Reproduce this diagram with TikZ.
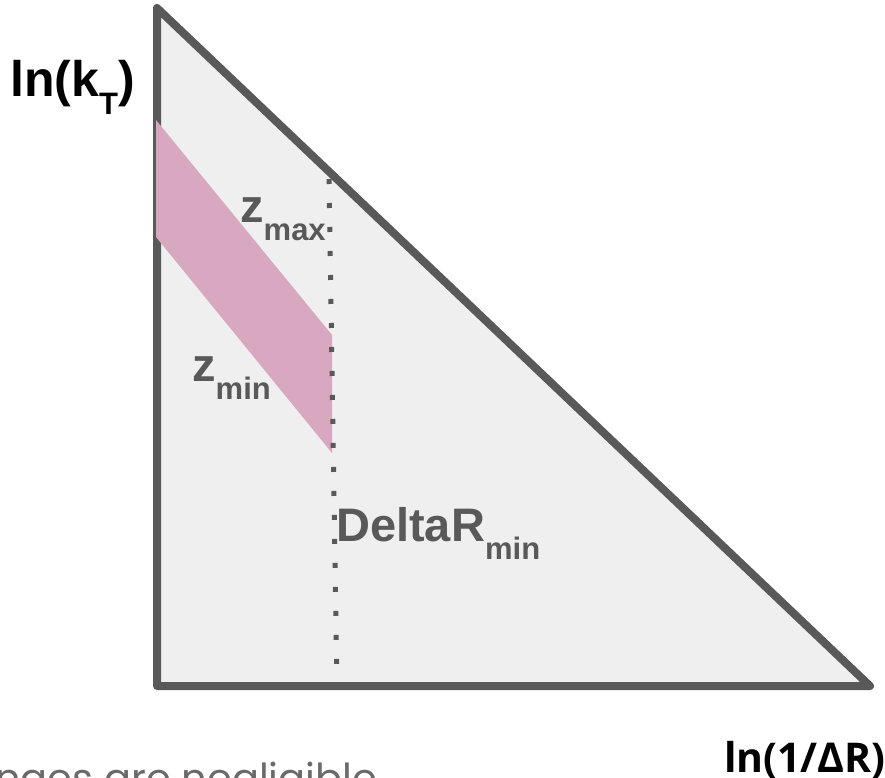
\documentclass[tikz,border=0pt]{standalone}
\usepackage{fontspec}
\setmainfont{Liberation Sans}
\newfontfamily\axfont{Open Sans}
\newfontfamily\notefont{Poppins}
\definecolor{edge}{HTML}{595959}
\definecolor{paper}{HTML}{EFEFEF}
\definecolor{rose}{HTML}{D8A7C0}
\newcommand{\lblsize}{\fontsize{47}{50}\selectfont}
\newcommand{\sbs}[1]{\raisebox{-18pt}{\fontsize{31}{31}\selectfont #1}}

\begin{document}
\begin{tikzpicture}[
  x=1pt, y=-1pt,
  tri/.style={draw=edge, fill=paper, line width=8pt, line join=round},
  band/.style={fill=rose},
  cut/.style={draw=edge, line width=5pt, dash pattern=on 5pt off 19pt},
  lbl/.style={font=\lblsize\bfseries, text=edge, inner sep=0pt, anchor=base west},
  axlbl/.style={font=\lblsize\bfseries, inner sep=0pt},
]
  \useasboundingbox (0,0) rectangle (885,778);
  \clip (0,0) rectangle (885,778);

  \coordinate (apex) at (157,8);
  \coordinate (orig) at (157,686);
  \coordinate (far)  at (870,686);
  \draw[tri] (apex) -- (orig) -- (far) -- cycle;

  % z band, cut at the DeltaR_min line
  \fill[band] (156,120) -- (332,335) -- (332,453) -- (156,237) -- cycle;
  \coordinate (cuttop) at (329,179);
  \coordinate (cutbot) at (337,689);
  \draw[cut] (cuttop) -- (cutbot);

  \node[lbl] (zmax)  at (240,222) {z\sbs{max}};
  \node[lbl] (zmin)  at (192,381) {z\sbs{min}};
  \node[lbl] (drmin) at (336,541) {DeltaR\sbs{min}};

  \node[axlbl, font=\fontsize{50}{54}\selectfont\bfseries, anchor=base west] (kt) at (10,97) {ln(k\sbs{T})};
  \node[axlbl, font=\axfont\fontsize{41}{44}\selectfont\bfseries, anchor=base east] (invdr) at (886,772) {ln(1/ΔR)};
  \node[font=\notefont\fontsize{40}{42}\selectfont, text=edge!90, inner sep=0pt, anchor=base west] (note) at (-5,792) {nges are negligible};
\end{tikzpicture}
\end{document}
